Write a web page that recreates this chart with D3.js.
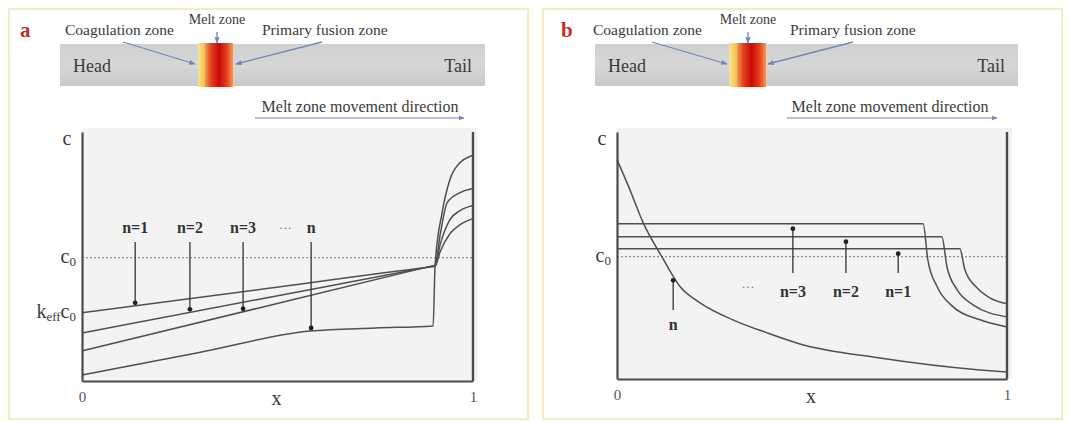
<!DOCTYPE html>
<html>
<head>
<meta charset="utf-8">
<script src="https://cdn.jsdelivr.net/npm/d3@7"></script>
<style>
  body { margin: 0; background: #fefefb; }
</style>
</head>
<body>
<div id="chart"></div>
<script>
// curve values, x from 0 (head) to 1 (tail), c in units of c0
var aCurveN1 = [[0, 0.553], [0.45, 0.741], [0.89, 0.925], [0.903, 0.93], [0.916, 1.049], [0.941, 1.195], [0.967, 1.268], [1, 1.317]];
var aCurveN2 = [[0, 0.39], [0.45, 0.662], [0.89, 0.927], [0.903, 0.935], [0.916, 1.106], [0.941, 1.309], [0.967, 1.382], [1, 1.423]];
var aCurveN3 = [[0, 0.244], [0.45, 0.591], [0.89, 0.93], [0.903, 0.94], [0.916, 1.187], [0.934, 1.447], [0.967, 1.528], [1, 1.561]];
var aCurveN = [[0, 0.049], [0.3, 0.232], [0.583, 0.405], [0.75, 0.43], [0.898, 0.447], [0.903, 0.94],
               [0.921, 1.366], [0.941, 1.634], [0.967, 1.772], [0.992, 1.821], [1, 1.83]];

var bCurveN1 = [[0, 1.066], [0.879, 1.066], [0.892, 0.893], [0.923, 0.746], [0.956, 0.664], [1, 0.615]];
var bCurveN2 = [[0, 1.164], [0.833, 1.164], [0.846, 0.918], [0.872, 0.73], [0.913, 0.607], [1, 0.508]];
var bCurveN3 = [[0, 1.27], [0.785, 1.27], [0.797, 0.975], [0.821, 0.754], [0.862, 0.59], [0.931, 0.484], [1, 0.426]];
var bCurveN = [[0, 1.795], [0.033, 1.549], [0.067, 1.279], [0.115, 1.0], [0.162, 0.754], [0.213, 0.623],
               [0.297, 0.484], [0.385, 0.377], [0.469, 0.287], [0.674, 0.172], [0.931, 0.074], [1, 0.057]];

// pass labels and where their arrows hit the curves
var aLabels = ["n=1", "n=2", "n=3", "n"];
var aLabelX = [0.136, 0.276, 0.412, 0.586];
var bLabels = ["n=3", "n=2", "n=1", "n"];
var bLabelX = [0.451, 0.587, 0.721, 0.144];

var axisTicks = [0, 1];
var c0 = 1;

var width = 1070, height = 422;
var serif = "Liberation Serif, DejaVu Serif, serif";
var ink = "#3a3a3a";
var blueInk = "#7287b8";

var svg = d3.select("#chart").append("svg")
    .attr("width", width)
    .attr("height", height)
    .attr("font-family", serif);

var defs = svg.append("defs");
defs.append("marker")
    .attr("id", "headArrow")
    .attr("viewBox", "0 0 10 10")
    .attr("refX", 9).attr("refY", 5)
    .attr("markerWidth", 5).attr("markerHeight", 5)
    .attr("orient", "auto")
  .append("path")
    .attr("d", "M0,1 L10,5 L0,9 Z")
    .attr("fill", blueInk);

var redGrad = defs.append("linearGradient").attr("id", "redGrad");
[["0%", "#f29a5c"], ["22%", "#e5401c"], ["50%", "#c80a06"], ["78%", "#e5401c"], ["100%", "#f29a5c"]].forEach(function(s) {
    redGrad.append("stop").attr("offset", s[0]).attr("stop-color", s[1]);
});
var yellowGrad = defs.append("linearGradient").attr("id", "yellowGrad");
[["0%", "#fbe58a"], ["100%", "#f3c04a"]].forEach(function(s) {
    yellowGrad.append("stop").attr("offset", s[0]).attr("stop-color", s[1]);
});
var barGrad = defs.append("linearGradient").attr("id", "barGrad")
    .attr("x1", 0).attr("y1", 0).attr("x2", 0).attr("y2", 1);
[["0%", "#d0d0d0"], ["50%", "#d6d6d6"], ["100%", "#c9c9c9"]].forEach(function(s) {
    barGrad.append("stop").attr("offset", s[0]).attr("stop-color", s[1]);
});

// linear lookup of a curve value at x
function valueAt(curve, x) {
    for (var i = 1; i < curve.length; i++) {
        if (x <= curve[i][0]) {
            var t = (x - curve[i - 1][0]) / (curve[i][0] - curve[i - 1][0]);
            return curve[i - 1][1] + t * (curve[i][1] - curve[i - 1][1]);
        }
    }
    return curve[curve.length - 1][1];
}

function drawHeader(g, h) {
    g.append("rect")
        .attr("x", h.barX0).attr("y", 44)
        .attr("width", h.barX1 - h.barX0).attr("height", 42)
        .attr("fill", "url(#barGrad)");
    g.append("rect")
        .attr("x", h.yellowX0).attr("y", 43)
        .attr("width", h.redX0 - h.yellowX0).attr("height", 44)
        .attr("fill", "url(#yellowGrad)");
    g.append("rect")
        .attr("x", h.redX0).attr("y", 43)
        .attr("width", h.redX1 - h.redX0).attr("height", 44)
        .attr("fill", "url(#redGrad)");

    g.append("text").attr("x", h.barX0 + 13).attr("y", 72)
        .attr("font-size", 18).attr("fill", ink).text("Head");
    g.append("text").attr("x", h.barX1 - 13).attr("y", 72)
        .attr("text-anchor", "end")
        .attr("font-size", 18).attr("fill", ink).text("Tail");

    g.append("text").attr("x", h.coagX).attr("y", 35)
        .attr("font-size", 15.5).attr("fill", ink).text("Coagulation zone");
    g.append("text").attr("x", h.meltX).attr("y", 24)
        .attr("text-anchor", "middle")
        .attr("font-size", 14).attr("fill", ink).text("Melt zone");
    g.append("text").attr("x", h.primX).attr("y", 35)
        .attr("font-size", 15.5).attr("fill", ink).text("Primary fusion zone");

    [h.coagArrow, h.primArrow, [h.meltX, 32, h.meltX, 43]].forEach(function(a) {
        g.append("line")
            .attr("x1", a[0]).attr("y1", a[1]).attr("x2", a[2]).attr("y2", a[3])
            .attr("stroke", blueInk).attr("stroke-width", 1.3)
            .attr("marker-end", "url(#headArrow)");
    });

    g.append("text").attr("x", h.moveX).attr("y", 112)
        .attr("text-anchor", "middle")
        .attr("font-size", 16).attr("fill", ink).text("Melt zone movement direction");
    g.append("line")
        .attr("x1", h.moveArrow[0]).attr("y1", 118)
        .attr("x2", h.moveArrow[1]).attr("y2", 118)
        .attr("stroke", blueInk).attr("stroke-width", 1.2)
        .attr("marker-end", "url(#headArrow)");
}

function drawPlot(g, p) {
    var x = d3.scaleLinear().domain([0, 1]).range(p.xRange);
    var y = d3.scaleLinear().domain([0, 2.02]).range(p.yRange);

    g.append("rect")
        .attr("x", x(0)).attr("y", y(2.02) - 4)
        .attr("width", x(1) - x(0) + 5).attr("height", y(0) - y(2.02) + 4)
        .attr("fill", "#f3f3f3");

    // c0 reference
    g.append("line")
        .attr("x1", x(0)).attr("x2", x(1))
        .attr("y1", y(c0)).attr("y2", y(c0))
        .attr("stroke", "#777").attr("stroke-width", 1)
        .attr("stroke-dasharray", "2,2");

    var line = d3.line()
        .x(function(d) { return x(d[0]); })
        .y(function(d) { return y(d[1]); })
        .curve(d3.curveMonotoneX);

    g.selectAll("path.curve")
        .data(p.curves)
        .enter()
        .append("path")
        .attr("class", "curve")
        .attr("d", line)
        .attr("fill", "none")
        .attr("stroke", "#505050")
        .attr("stroke-width", 1.5);

    // axes
    var xAxis = d3.axisBottom(x)
        .tickValues(axisTicks)
        .tickFormat(d3.format("d"))
        .tickSize(0).tickSizeOuter(0).tickPadding(10);
    var gx = g.append("g")
        .attr("transform", "translate(0," + y(0) + ")")
        .call(xAxis);
    gx.select(".domain").attr("stroke", "#4a4a4a").attr("stroke-width", 2.2);
    gx.selectAll("text")
        .attr("font-family", serif).attr("font-size", 15).attr("fill", "#555");

    var yAxis = d3.axisLeft(y).tickValues([]).tickSizeOuter(0);
    var gy = g.append("g")
        .attr("transform", "translate(" + x(0) + ",0)")
        .call(yAxis);
    gy.select(".domain").attr("stroke", "#4a4a4a").attr("stroke-width", 2.2);

    g.append("line")
        .attr("x1", x(1)).attr("x2", x(1))
        .attr("y1", y(2.02)).attr("y2", y(0))
        .attr("stroke", "#4a4a4a").attr("stroke-width", 2.4);

    g.append("text").attr("x", x(0) - 15).attr("y", y(2.02) + 13)
        .attr("text-anchor", "middle")
        .attr("font-size", 20).attr("fill", ink).text("c");
    g.append("text").attr("x", (x(0) + x(1)) / 2 - 1).attr("y", y(0) + 24)
        .attr("text-anchor", "middle")
        .attr("font-size", 20).attr("fill", ink).text("x");

    var c0Label = g.append("text").attr("x", x(0) - 6).attr("y", y(c0) + 5)
        .attr("text-anchor", "end")
        .attr("font-size", 20).attr("fill", ink);
    c0Label.append("tspan").text("c");
    c0Label.append("tspan").attr("font-size", 13).attr("dy", 3).text("0");

    if (p.keff) {
        var kLabel = g.append("text").attr("x", x(0) - 6).attr("y", y(p.keff) + 5)
            .attr("text-anchor", "end")
            .attr("font-size", 20).attr("fill", ink);
        kLabel.append("tspan").text("k");
        kLabel.append("tspan").attr("font-size", 13).attr("dy", 3).text("eff");
        kLabel.append("tspan").attr("dy", -3).text("c");
        kLabel.append("tspan").attr("font-size", 13).attr("dy", 3).text("0");
    }

    // pass annotations
    p.labels.forEach(function(lbl, i) {
        var lx = x(p.labelX[i]);
        var hit = y(valueAt(p.curves[i], p.labelX[i])) + p.tipOffset;
        var fromY = lbl === "n" ? p.nFrom : p.arrowFrom;
        var labelY = lbl === "n" ? p.nLabelY : p.labelY;
        g.append("line")
            .attr("x1", lx).attr("x2", lx)
            .attr("y1", fromY).attr("y2", hit)
            .attr("stroke", "#333").attr("stroke-width", 1.3);
        g.append("circle")
            .attr("cx", lx).attr("cy", hit).attr("r", 2.4)
            .attr("fill", "#222");
        g.append("text")
            .attr("x", lx).attr("y", labelY)
            .attr("text-anchor", "middle")
            .attr("font-size", 16).attr("font-weight", "bold").attr("fill", "#333")
            .text(lbl);
    });
    g.append("text")
        .attr("x", x(p.dotsX)).attr("y", p.dotsY)
        .attr("text-anchor", "middle")
        .attr("font-size", 13).attr("fill", "#777")
        .text("···");
}

// panel frames
[[9, 528], [543, 1062]].forEach(function(f) {
    svg.append("rect")
        .attr("x", f[0]).attr("y", 9)
        .attr("width", f[1] - f[0]).attr("height", 410)
        .attr("fill", "#ffffff")
        .attr("stroke", "#f1ecc4").attr("stroke-width", 2);
});

svg.append("text").attr("x", 20).attr("y", 37)
    .attr("font-size", 21).attr("font-weight", "bold").attr("fill", "#c0302a").text("a");
svg.append("text").attr("x", 561).attr("y", 37)
    .attr("font-size", 21).attr("font-weight", "bold").attr("fill", "#c0302a").text("b");

var gA = svg.append("g");
var gB = svg.append("g");

drawHeader(gA, {
    barX0: 60, barX1: 485, yellowX0: 198, redX0: 205, redX1: 233,
    coagX: 65, meltX: 217, primX: 262,
    coagArrow: [123, 42, 195, 64], primArrow: [322, 42, 236, 64],
    moveX: 360, moveArrow: [255, 464]
});
drawHeader(gB, {
    barX0: 595, barX1: 1018, yellowX0: 729, redX0: 737, redX1: 766,
    coagX: 593, meltX: 748, primX: 790,
    coagArrow: [652, 42, 727, 64], primArrow: [853, 42, 768, 64],
    moveX: 890, moveArrow: [787, 997]
});

drawPlot(gA, {
    xRange: [82, 473], yRange: [381, 132],
    curves: [aCurveN1, aCurveN2, aCurveN3, aCurveN],
    keff: aCurveN1[0][1],
    labels: aLabels, labelX: aLabelX, tipOffset: -3,
    arrowFrom: 242, nFrom: 242, labelY: 233, nLabelY: 233,
    dotsX: 0.52, dotsY: 232
});
drawPlot(gB, {
    xRange: [617, 1007], yRange: [379, 132],
    curves: [bCurveN3, bCurveN2, bCurveN1, bCurveN],
    keff: null,
    labels: bLabels, labelX: bLabelX, tipOffset: 5,
    arrowFrom: 273, nFrom: 310, labelY: 297, nLabelY: 330,
    dotsX: 0.336, dotsY: 291
});
</script>
</body>
</html>
